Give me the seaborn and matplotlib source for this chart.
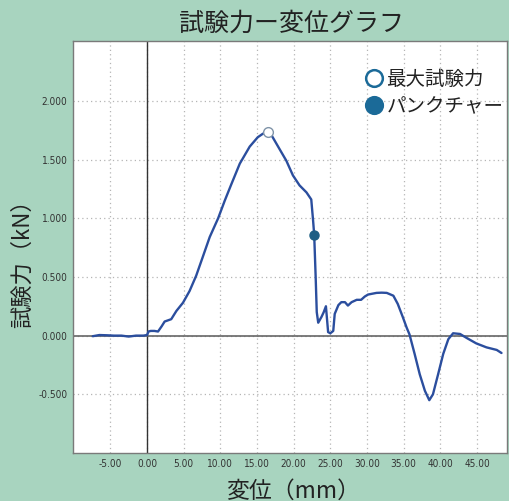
import matplotlib
matplotlib.use("Agg")
import matplotlib.pyplot as plt
from matplotlib.lines import Line2D
import pandas as pd
import seaborn as sns

# displacement (mm) vs test force (kN)
displacement = [-7.4, -6.5, -5.5, -4.5, -3.5, -2.5, -1.5, -0.5, 0.0, 0.2, 0.5, 1.0,
                1.5, 2.0, 2.4, 3.3, 4.0, 4.9, 5.8, 6.7, 7.6, 8.55, 9.7, 10.6, 11.5,
                12.65, 14.0, 15.1, 15.8, 16.5, 17.0, 17.65, 18.3, 19.0, 19.9, 20.8,
                21.75, 22.4, 22.65, 22.8, 23.0, 23.15, 23.35, 23.8, 24.1, 24.4, 24.7,
                25.0, 25.4, 25.6, 26.1, 26.5, 27.0, 27.4, 27.9, 28.6, 29.2, 29.7,
                30.15, 31.3, 32.0, 32.7, 33.6, 34.2, 34.9, 35.4, 35.8, 36.5, 37.2,
                37.9, 38.5, 39.0, 39.7, 40.4, 41.1, 41.75, 42.7, 43.6, 44.9, 46.3,
                47.7, 48.35]
force = [-0.005, 0.005, 0.003, 0.0, 0.0, -0.008, 0.0, 0.0, 0.005, 0.035, 0.04, 0.04,
         0.035, 0.08, 0.12, 0.14, 0.21, 0.28, 0.38, 0.51, 0.67, 0.84, 1.0, 1.15, 1.29,
         1.465, 1.61, 1.69, 1.72, 1.735, 1.705, 1.635, 1.565, 1.49, 1.365, 1.28,
         1.22, 1.16, 0.98, 0.86, 0.5, 0.2, 0.11, 0.16, 0.2, 0.25, 0.03,
         0.02, 0.04, 0.185, 0.26, 0.285, 0.285, 0.256, 0.285, 0.305, 0.305, 0.333,
         0.35, 0.364, 0.366, 0.364, 0.34, 0.27, 0.156, 0.07, 0.01, -0.156, -0.33,
         -0.47, -0.55, -0.50, -0.33, -0.156, -0.03, 0.02, 0.014, -0.02, -0.066, -0.1,
         -0.122, -0.148]

peak_x, peak_y = 16.5, 1.735
puncture_x, puncture_y = 22.8, 0.86

x_ticks = [-5, 0, 5, 10, 15, 20, 25, 30, 35, 40, 45]
y_ticks = [-0.5, 0.0, 0.5, 1.0, 1.5, 2.0]

bg = "#a8d4bf"
line_col = "#2b4e9e"
dot_col = "#1b6a98"

sns.set_theme(style="white")
plt.rcParams["font.family"] = ["Noto Sans CJK JP", "DejaVu Sans"]

df = pd.DataFrame({"disp": displacement, "force": force})

fig = plt.figure(figsize=(5.09, 5.01), dpi=100, facecolor=bg)
ax = fig.add_axes([73 / 509, 48 / 501, 434 / 509, 412 / 501])
ax.set_facecolor("white")

ax.grid(True, linestyle=(0, (1, 2.5)), color="#b5b5b5", linewidth=0.9)
ax.axvline(0, color="#333333", lw=1.0, zorder=2)
ax.axhline(0, color="#666666", lw=1.2, zorder=2)

sns.lineplot(data=df, x="disp", y="force", sort=False, estimator=None,
             color=line_col, lw=1.7, ax=ax, zorder=3)
ax.plot(peak_x, peak_y, "o", ms=7, mfc="white", mec="#7f93a8", mew=1.0, zorder=4)
ax.plot(puncture_x, puncture_y, "o", ms=6.5, mfc="#1e5f84", mec="#1e5f84", zorder=4)

ax.set_xlim(-10.1, 49.1)
ax.set_ylim(-1.0, 2.51)
ax.set_xticks(x_ticks)
ax.set_xticklabels([f"{v:.2f}" for v in x_ticks])
ax.set_yticks(y_ticks)
ax.set_yticklabels([f"{v:.3f}" for v in y_ticks])
ax.tick_params(direction="in", length=5, width=0.8, color="#555555",
               labelsize=7.2, labelcolor="#333333", pad=4)
for lbl in ax.get_xticklabels() + ax.get_yticklabels():
    lbl.set_family(["DejaVu Sans"])
    lbl.set_fontstretch("condensed")
for s in ax.spines.values():
    s.set_color("#7a7a7a")
    s.set_linewidth(1.0)

ax.set_xlabel("")
ax.set_ylabel("")
fig.text(291 / 509, 1 - 24 / 501, "試験力ー変位グラフ", ha="center", va="center",
         fontsize=18, color="#222222")
fig.text(22 / 509, 1 - 258 / 501, "試験力（kN）", rotation=90, ha="center",
         va="center", fontsize=16, color="#222222")
fig.text(293 / 509, 1 - 491 / 501, "変位（mm）", ha="center", va="center",
         fontsize=16.5, color="#222222")

handles = [
    Line2D([], [], ls="none", marker="o", ms=12, mfc="white", mec=dot_col, mew=1.8),
    Line2D([], [], ls="none", marker="o", ms=12, mfc=dot_col, mec=dot_col, mew=1.8),
]
leg = ax.legend(handles, ["最大試験力", "パンクチャー"], loc="upper left",
                bbox_to_anchor=(366 / 509, 1 - 69 / 501), bbox_transform=fig.transFigure,
                frameon=False, fontsize=14, handlelength=0.8, handletextpad=0.25,
                labelspacing=0.3, borderpad=0, borderaxespad=0)
for t in leg.get_texts():
    t.set_color("#222222")

fig.savefig("out.png", dpi=100, facecolor=bg)
